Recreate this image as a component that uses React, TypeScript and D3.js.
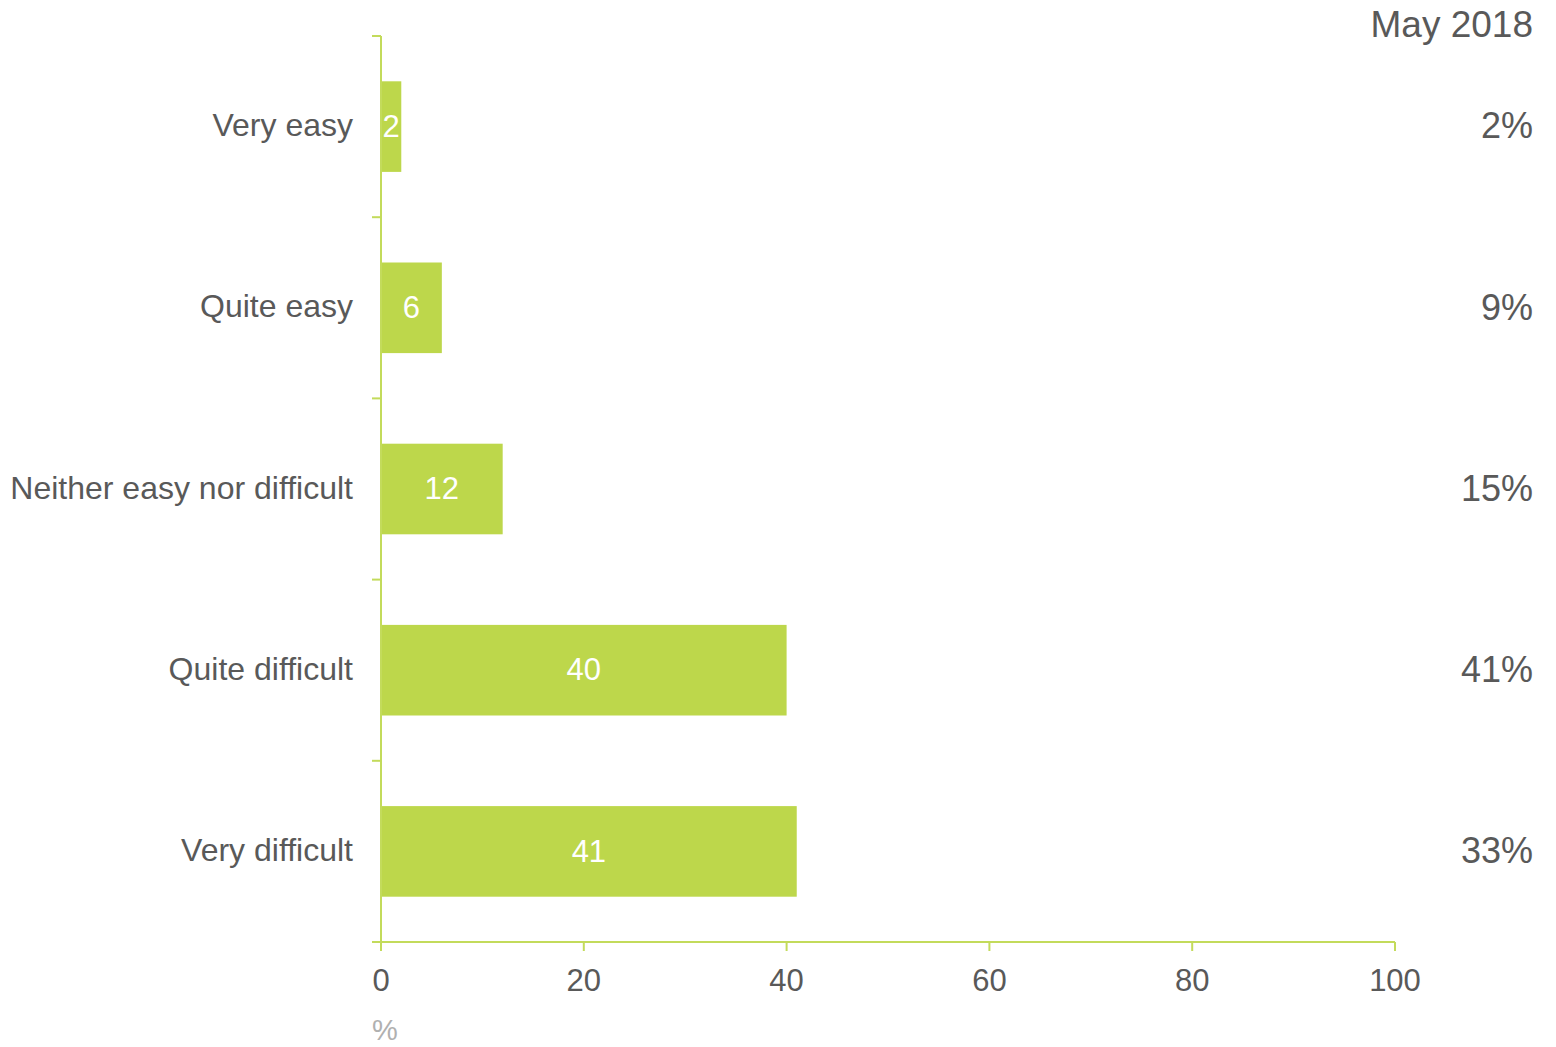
import React from "react";
import * as d3 from "d3";

const categories = ["Very easy", "Quite easy", "Neither easy nor difficult", "Quite difficult", "Very difficult"];
const values = [2, 6, 12, 40, 41];
const may2018Labels = ["2%", "9%", "15%", "41%", "33%"];
const xTicks = [0, 20, 40, 60, 80, 100];
const seriesTitle = "May 2018";
const unitLabel = "%";

const W = 1556;
const H = 1047;
const M = { left: 381, right: 1395, top: 36, bottom: 942 };
const BAR = "#bdd74b";
const AXIS = "#c3db5b";
const TEXT = "#595959";
const FONT = "'Liberation Sans', Arial, Helvetica, sans-serif";

export default function App() {
  const x = d3.scaleLinear().domain([0, 100]).range([M.left, M.right]);
  const y = d3.scaleBand<string>().domain(categories).range([M.top, M.bottom]).paddingInner(0.5).paddingOuter(0.25);
  const bandStep = (M.bottom - M.top) / categories.length;
  const yTickPositions = d3.range(categories.length + 1).map((i) => M.top + i * bandStep);

  return (
    <svg width={W} height={H} style={{ position: "absolute", left: 0, top: 0, background: "#fff" }} fontFamily={FONT}>
      {/* bars */}
      {categories.map((c, i) => (
        <rect key={c} x={x(0)} y={y(c)!} width={x(values[i]) - x(0)} height={y.bandwidth()} fill={BAR} />
      ))}
      {/* y axis */}
      <line x1={M.left} x2={M.left} y1={M.top} y2={M.bottom} stroke={AXIS} strokeWidth={2} />
      {yTickPositions.map((p, i) => (
        <line key={i} x1={M.left - 9} x2={M.left} y1={p} y2={p} stroke={AXIS} strokeWidth={2} />
      ))}
      {/* x axis */}
      <line x1={M.left - 9} x2={M.right} y1={M.bottom} y2={M.bottom} stroke={AXIS} strokeWidth={2} />
      {xTicks.map((t) => (
        <g key={t}>
          <line x1={x(t)} x2={x(t)} y1={M.bottom} y2={M.bottom + 9} stroke={AXIS} strokeWidth={2} />
          <text x={x(t)} y={991} textAnchor="middle" fontSize={31} fill={TEXT}>{t}</text>
        </g>
      ))}
      <text x={385} y={1040} textAnchor="middle" fontSize={29} fill="#b0b0b0">{unitLabel}</text>
      {/* category labels */}
      {categories.map((c) => (
        <text key={c} x={353} y={y(c)! + y.bandwidth() / 2} dy="0.3em" textAnchor="end" fontSize={32} fill={TEXT}>{c}</text>
      ))}
      {/* value labels */}
      {categories.map((c, i) => (
        <text key={c} x={(x(0) + x(values[i])) / 2} y={y(c)! + y.bandwidth() / 2} dy="0.33em" textAnchor="middle" fontSize={31} fill="#ffffff">{values[i]}</text>
      ))}
      {/* right column */}
      <text x={1533} y={37} textAnchor="end" fontSize={37} fill={TEXT}>{seriesTitle}</text>
      {categories.map((c, i) => (
        <text key={c} x={1533} y={y(c)! + y.bandwidth() / 2} dy="0.33em" textAnchor="end" fontSize={36} fill={TEXT}>{may2018Labels[i]}</text>
      ))}
    </svg>
  );
}
